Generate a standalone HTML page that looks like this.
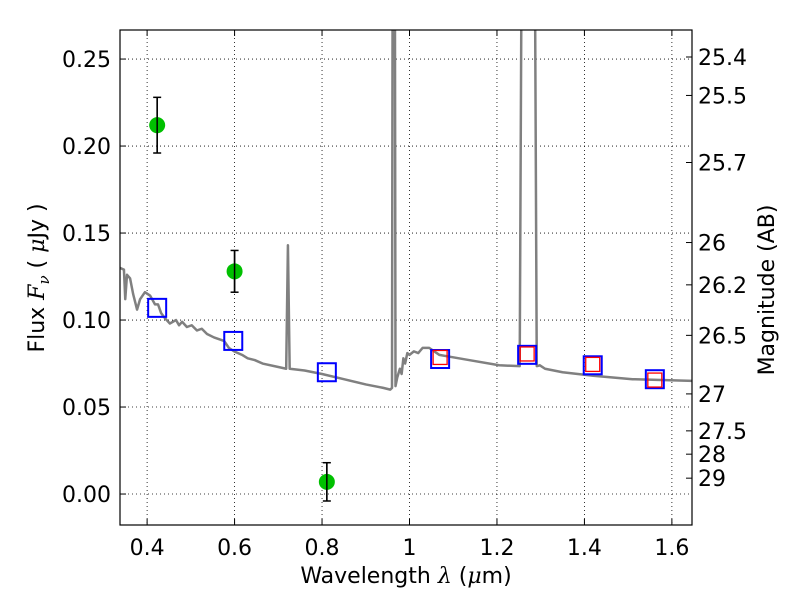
<!DOCTYPE html>
<html><head><meta charset="utf-8"><style>
body{margin:0;background:#fff}
svg text{font-family:"DejaVu Sans","Liberation Sans",sans-serif;font-size:22px;fill:#000}
</style></head><body>
<svg id="chart" width="800" height="600" viewBox="0 0 800 600" xmlns="http://www.w3.org/2000/svg">
<defs><clipPath id="clip"><rect x="120" y="30" width="572" height="495"/></clipPath></defs>
<rect x="0" y="0" width="800" height="600" fill="#fff"/>
<g id="grid"></g>
<g id="plot" clip-path="url(#clip)"></g>
<rect x="120" y="30" width="572" height="495" fill="none" stroke="#000" stroke-width="1.2"/>
<g id="ticks"></g>
<text x="406" y="583" text-anchor="middle">Wavelength  <tspan font-style="italic" font-family="DejaVu Serif">λ</tspan> (<tspan font-style="italic" font-family="DejaVu Serif">μ</tspan>m)</text>
<text transform="translate(44,278) rotate(-90)" text-anchor="middle">Flux  <tspan font-style="italic" font-family="DejaVu Serif">F</tspan><tspan font-style="italic" font-family="DejaVu Serif" font-size="15" dy="5">ν</tspan><tspan dy="-5">  (  </tspan><tspan font-style="italic" font-family="DejaVu Serif">μ</tspan>Jy )</text>
<text transform="translate(774,290) rotate(-90)" text-anchor="middle">Magnitude (AB)</text>
</svg>
<script>
const xTicks=[0.4,0.6,0.8,1.0,1.2,1.4,1.6];
const xTickLabels=["0.4","0.6","0.8","1","1.2","1.4","1.6"];
const yTicks=[0,0.05,0.10,0.15,0.20,0.25];
const yTickLabels=["0.00","0.05","0.10","0.15","0.20","0.25"];
const magTicks=[25.4,25.5,25.7,26,26.2,26.5,27,27.5,28,29];
const specWave=[0.338,0.347,0.350,0.354,0.361,0.368,0.377,0.384,0.395,0.407,0.418,0.425,0.432,0.441,0.452,0.466,0.473,0.480,0.491,0.502,0.514,0.525,0.537,0.553,0.576,0.587,0.599,0.617,0.630,0.646,0.664,0.700,0.718,0.722,0.726,0.76,0.80,0.85,0.90,0.94,0.956,0.960,0.962,0.966,0.968,0.972,0.978,0.982,0.986,0.990,0.995,1.000,1.010,1.020,1.030,1.045,1.068,1.09,1.136,1.205,1.252,1.258,1.264,1.285,1.291,1.298,1.31,1.35,1.42,1.51,1.65];
const specFlux=[0.130,0.129,0.112,0.126,0.124,0.115,0.106,0.112,0.116,0.114,0.109,0.109,0.104,0.101,0.098,0.100,0.097,0.099,0.096,0.097,0.094,0.095,0.092,0.090,0.088,0.084,0.082,0.080,0.078,0.077,0.075,0.073,0.072,0.143,0.072,0.071,0.069,0.066,0.063,0.061,0.060,0.061,0.40,0.40,0.062,0.067,0.072,0.069,0.078,0.075,0.081,0.080,0.082,0.081,0.084,0.084,0.080,0.079,0.077,0.074,0.0735,0.40,0.40,0.40,0.0735,0.074,0.072,0.070,0.068,0.066,0.065];
const photWave=[0.423,0.600,0.811];
const photFlux=[0.212,0.128,0.007];
const photErr=[0.016,0.012,0.011];
const modelWave=[0.423,0.597,0.811,1.07,1.269,1.419,1.561];
const modelFlux=[0.107,0.088,0.070,0.0776,0.080,0.074,0.066];
const redWave=[1.07,1.269,1.419,1.561];
const redFlux=[0.0785,0.0805,0.0745,0.0655];
const NS="http://www.w3.org/2000/svg";
const xMin=0.338,xMax=1.646,yMin=-0.0178,yMax=0.2667;
const L=120,R=692,T=30,B=525;
const X=v=>L+(v-xMin)/(xMax-xMin)*(R-L);
const Y=v=>B-(v-yMin)/(yMax-yMin)*(B-T);
function el(tag,attrs,parent){const e=document.createElementNS(NS,tag);for(const k in attrs)e.setAttribute(k,attrs[k]);parent.appendChild(e);return e;}
const grid=document.getElementById('grid'),plot=document.getElementById('plot'),ticks=document.getElementById('ticks');
xTicks.forEach((v,i)=>{
  const g=el('line',{x1:X(v),x2:X(v),y1:T,y2:B,stroke:'#000','stroke-width':0.8,'stroke-dasharray':'1,3'},grid);
  
  
  el('line',{x1:X(v),x2:X(v),y1:B,y2:B-6,stroke:'#000'},ticks);
  el('line',{x1:X(v),x2:X(v),y1:T,y2:T+6,stroke:'#000'},ticks);
  const t=el('text',{x:X(v),y:B+30,'text-anchor':'middle'},ticks);t.textContent=xTickLabels[i];
  
  
});
yTicks.forEach((v,i)=>{
  const g=el('line',{x1:L,x2:R,y1:Y(v),y2:Y(v),stroke:'#000','stroke-width':0.8,'stroke-dasharray':'1,3'},grid);
  
  
  el('line',{x1:L,x2:L+6,y1:Y(v),y2:Y(v),stroke:'#000'},ticks);
  const t=el('text',{x:L-9,y:Y(v)+8,'text-anchor':'end'},ticks);t.textContent=yTickLabels[i];
  
  
});
magTicks.forEach(m=>{
  const f=Math.pow(10,(23.9-m)/2.5);const y=Y(f);
  el('line',{x1:R,x2:R-6,y1:y,y2:y,stroke:'#000'},ticks);
  const t=el('text',{x:R+6,y:y+8},ticks);t.textContent=String(m);
  
  
});
const sp=el('polyline',{points:specWave.map((w,i)=>X(w)+','+Y(specFlux[i])).join(' '),fill:'none',stroke:'#808080','stroke-width':2.5,'stroke-linejoin':'round'},plot);


modelWave.forEach((w,i)=>{
  const r=el('rect',{x:X(w)-9,y:Y(modelFlux[i])-9,width:18,height:18,fill:'none',stroke:'#0000ff','stroke-width':2},plot);
  
  
});
redWave.forEach((w,i)=>{
  const r=el('rect',{x:X(w)-7,y:Y(redFlux[i])-7,width:14,height:14,fill:'none',stroke:'#ff0000','stroke-width':1.3},plot);
  
  
});
photWave.forEach((w,i)=>{
  const x=X(w),y1=Y(photFlux[i]+photErr[i]),y2=Y(photFlux[i]-photErr[i]);
  const g=el('g',{},plot);
  
  
  el('line',{x1:x,x2:x,y1:y1,y2:y2,stroke:'#000','stroke-width':1.5},g);
  el('line',{x1:x-4,x2:x+4,y1:y1,y2:y1,stroke:'#000','stroke-width':1.5},g);
  el('line',{x1:x-4,x2:x+4,y1:y2,y2:y2,stroke:'#000','stroke-width':1.5},g);
  el('circle',{cx:x,cy:Y(photFlux[i]),r:8,fill:'#00c000'},g);
  el('line',{x1:x,x2:x,y1:y1,y2:y2,stroke:'#000','stroke-width':1.5},g);
});
</script>
</body></html>
